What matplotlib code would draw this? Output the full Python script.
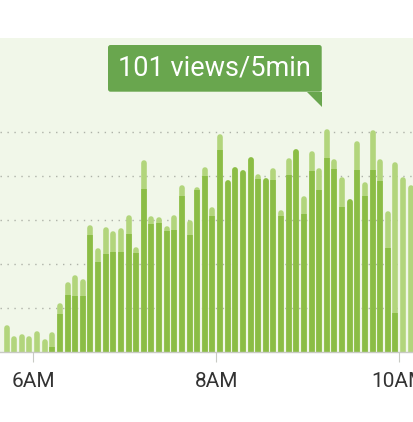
import matplotlib
matplotlib.use("Agg")
import matplotlib.pyplot as plt
from matplotlib.patches import FancyBboxPatch, Polygon
import numpy as np

# ---- data (5-minute buckets from 5:35 to 10:05) ----
total_views = [4, 12, 7, 8, 7, 9.5, 5.5, 9, 22, 31.5, 35, 33, 57.5, 47, 56.5, 55, 56, 62,
               47.5, 87, 61.5, 61, 57, 62, 75.5, 60, 75, 84, 65.5, 99, 78, 84, 82.5, 88.5,
               80.5, 79, 83.5, 64.5, 88, 92, 70.5, 91, 83.5, 101, 87.5, 79.5, 69.5, 95.5,
               77, 100.5, 87.5, 64, 86, 79.5, 75.5]
unique_views = [0, 0, 0, 0, 0, 0, 0, 2, 17, 26, 25.5, 25.5, 53, 41, 44.5, 45.5, 45.5, 53.5,
                45, 74, 58, 58.5, 55, 55.5, 71, 53, 73.5, 80, 61.5, 91.5, 78, 84, 82.5, 88.5,
                78.5, 79, 78, 61.5, 80.5, 92, 62.5, 82, 73.5, 88, 83, 66, 69.5, 82.5, 71,
                82.5, 77.5, 47, 17.5, 0, 0]
tick_positions = [5, 29, 53]
tick_labels = ["6AM", "8AM", "10AM"]
grid_values = [20, 40, 60, 80, 100]
tooltip_text = "101 views/5min"

W, H = 414, 422
DPI = 100
fig = plt.figure(figsize=(W / DPI, H / DPI), dpi=DPI)
fig.patch.set_facecolor("white")

base_px, top_px = 351.7, 38.0
ax = fig.add_axes([0, (H - base_px) / H, 1, (base_px - top_px) / H])
ax.set_facecolor("#f1f7e9")
ymax = 142.6
ax.set_xlim(0.633, 54.93)
ax.set_ylim(0, ymax)

light = "#b2d57c"
dark = "#8bbd45"

n = len(total_views)
x = np.arange(n) + 0.5
tot = np.array(total_views, float)
uni = np.array(unique_views, float)

bar_px = 5.6
lw = bar_px * 72 / DPI
px_per_unit = (base_px - top_px) / ymax
r = (bar_px / 2) / px_per_unit

ax.vlines(x, 0, tot - r, colors=light, linewidth=lw, capstyle="round", zorder=2)
exposed = (uni >= tot) & (uni > 0)
covered = (uni < tot) & (uni > 0)
ax.vlines(x[exposed], 0, uni[exposed] - r, colors=dark, linewidth=lw,
          capstyle="round", zorder=3)
ax.vlines(x[covered], 0, uni[covered], colors=dark, linewidth=lw,
          capstyle="butt", zorder=3)

# grid
ax.set_yticks(grid_values)
ax.set_yticklabels([])
ax.tick_params(axis="y", length=0)
ax.yaxis.grid(True, color="#aeb2a8", linewidth=1.0, linestyle=(0, (1, 4)))
ax.set_axisbelow(True)

for s in ["top", "left", "right"]:
    ax.spines[s].set_visible(False)
ax.spines["bottom"].set_color("#c8cac4")
ax.spines["bottom"].set_linewidth(1.0)
ax.spines["bottom"].set_zorder(4)

ax.set_xticks(tick_positions)
ax.set_xticklabels(tick_labels)
ax.tick_params(axis="x", length=7.5, width=0.8, color="#c8cac4",
               labelsize=15, labelcolor="#333333", pad=7)
for lab in ax.get_xticklabels():
    lab.set_fontfamily("Roboto")

# tooltip
def fx(px):
    return px / W

def fy(py):
    return (H - py) / H

bx0, bx1, by0, by1 = 108, 321.7, 45, 91.7
tip_color = "#69a64e"
box = FancyBboxPatch((fx(bx0), fy(by1)), fx(bx1) - fx(bx0), fy(by0) - fy(by1),
                     boxstyle="round,pad=0,rounding_size=0.006",
                     transform=fig.transFigure, facecolor=tip_color,
                     edgecolor="none", zorder=10)
fig.patches.append(box)
arrow = Polygon([(fx(306.7), fy(by1)), (fx(bx1), fy(by1)), (fx(bx1), fy(107))],
                closed=True, transform=fig.transFigure, facecolor=tip_color,
                edgecolor="none", zorder=10)
fig.patches.append(arrow)
fig.text(fx((bx0 + bx1) / 2), fy((by0 + by1) / 2), tooltip_text, color="white",
         fontsize=19.5, fontfamily="Roboto", fontweight="normal",
         ha="center", va="center", zorder=11)

fig.savefig("out.png", dpi=DPI, facecolor="white")
